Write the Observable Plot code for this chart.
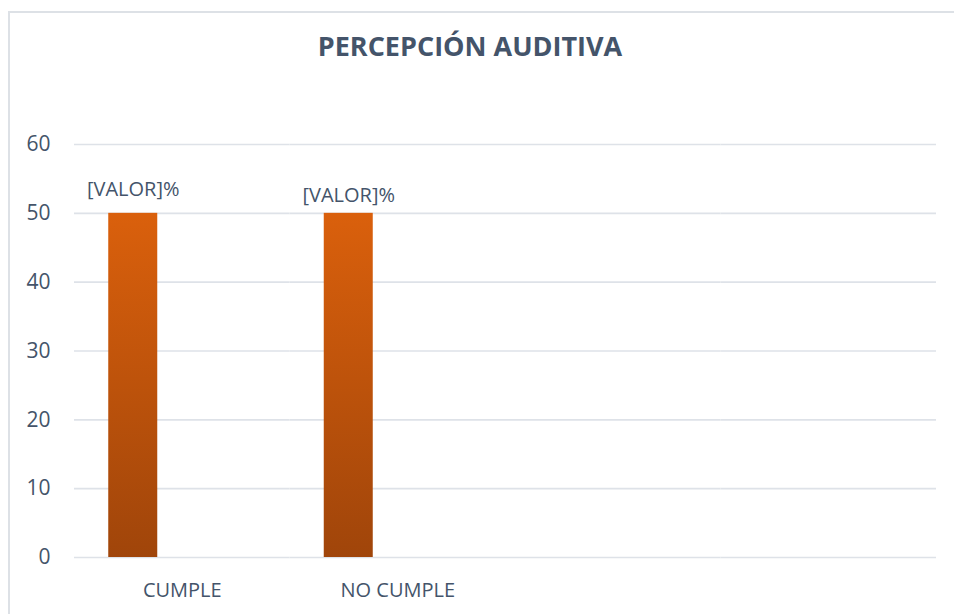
<!DOCTYPE html>
<html>
<head>
<meta charset="utf-8">
<script src="https://cdn.jsdelivr.net/npm/d3@7"></script>
<script src="https://cdn.jsdelivr.net/npm/@observablehq/plot@0.6"></script>
<style>
  html, body { margin: 0; padding: 0; background: #fff; }
  #wrap { position: relative; width: 954px; height: 614px; overflow: hidden; font-family: "Open Sans", sans-serif; }
  #frame { position: absolute; left: 8px; top: 11px; width: 1000px; height: 700px; border: 2px solid #DDE1E6; box-sizing: border-box; }
  #title { position: absolute; left: 0; top: 32px; width: 940px; text-align: center; font-weight: 700; font-size: 27px; line-height: 1; color: #44546A; }
  #chart { position: absolute; left: 0; top: 100px; }
</style>
</head>
<body>
<div id="wrap">
  <div id="frame"></div>
  <div id="title"></div>
  <div id="chart"></div>
</div>
<script>
const title = "PERCEPCIÓN AUDITIVA";
const categories = ["CUMPLE", "NO CUMPLE"];
const emptySlots = ["slot3", "slot4"];
const seriesNames = ["Serie 1", "Serie 2", "Serie 3"];
const values = [50, 50];
const labels = ["[VALOR]%", "[VALOR]%"];
const yTicks = [0, 10, 20, 30, 40, 50, 60];

document.getElementById("title").textContent = title;

const data = [
  ...categories.map((c, i) => ({cat: c, series: seriesNames[0], value: values[i], label: labels[i]})),
  ...emptySlots.map(c => ({cat: c, series: seriesNames[0], value: NaN, label: ""}))
];

const textColor = "#44546A";

const plot = Plot.plot({
  width: 954,
  height: 514,
  marginLeft: 74,
  marginRight: 18,
  marginTop: 44,
  marginBottom: 57,
  style: {fontFamily: "Open Sans, sans-serif", fontSize: "20px", color: textColor, background: "transparent"},
  fx: {domain: [...categories, ...emptySlots], paddingInner: 0, paddingOuter: 0, round: false, label: null, axis: "bottom",
       tickSize: 0, tickPadding: 25, tickFormat: d => emptySlots.includes(d) ? "" : d},
  x: {domain: seriesNames, paddingInner: 0, paddingOuter: 0.699, round: false, axis: null},
  y: {domain: [0, 60], ticks: yTicks, label: null, tickSize: 0, tickPadding: 24},
  marks: [
    Plot.gridY(yTicks, {stroke: "#DEE2E8", strokeOpacity: 1, strokeWidth: 1.6}),
    Plot.barY(data.filter(d => !isNaN(d.value)), {fx: "cat", x: "series", y: "value", fill: "url(#barGrad)", inset: 0,
      style: "filter: drop-shadow(2px 1px 2px rgba(0,0,0,0.22))"}),
    Plot.text(data.filter(d => d.cat === categories[0]), {fx: "cat", x: "series", y: "value", text: "label", dy: -24, fill: textColor, fontSize: 20}),
    Plot.text(data.filter(d => d.cat === categories[1]), {fx: "cat", x: "series", y: "value", text: "label", dy: -18, fill: textColor, fontSize: 20}),
    Plot.ruleY(data, {fx: "cat", y: 0, stroke: "transparent"})
  ]
});

const ns = "http://www.w3.org/2000/svg";
const defs = document.createElementNS(ns, "defs");
const grad = document.createElementNS(ns, "linearGradient");
grad.setAttribute("id", "barGrad");
grad.setAttribute("x1", "0"); grad.setAttribute("y1", "0");
grad.setAttribute("x2", "0"); grad.setAttribute("y2", "1");
[["0%", "#DA600C"], ["100%", "#A0450A"]].forEach(([o, c]) => {
  const s = document.createElementNS(ns, "stop");
  s.setAttribute("offset", o); s.setAttribute("stop-color", c);
  grad.appendChild(s);
});
defs.appendChild(grad);
plot.insertBefore(defs, plot.firstChild);
plot.querySelectorAll("text").forEach(t => t.setAttribute("fill", textColor));
plot.querySelectorAll("[aria-label='y-axis tick label'] text").forEach(t => t.setAttribute("font-size", "21"));
document.getElementById("chart").appendChild(plot);
</script>
</body>
</html>
